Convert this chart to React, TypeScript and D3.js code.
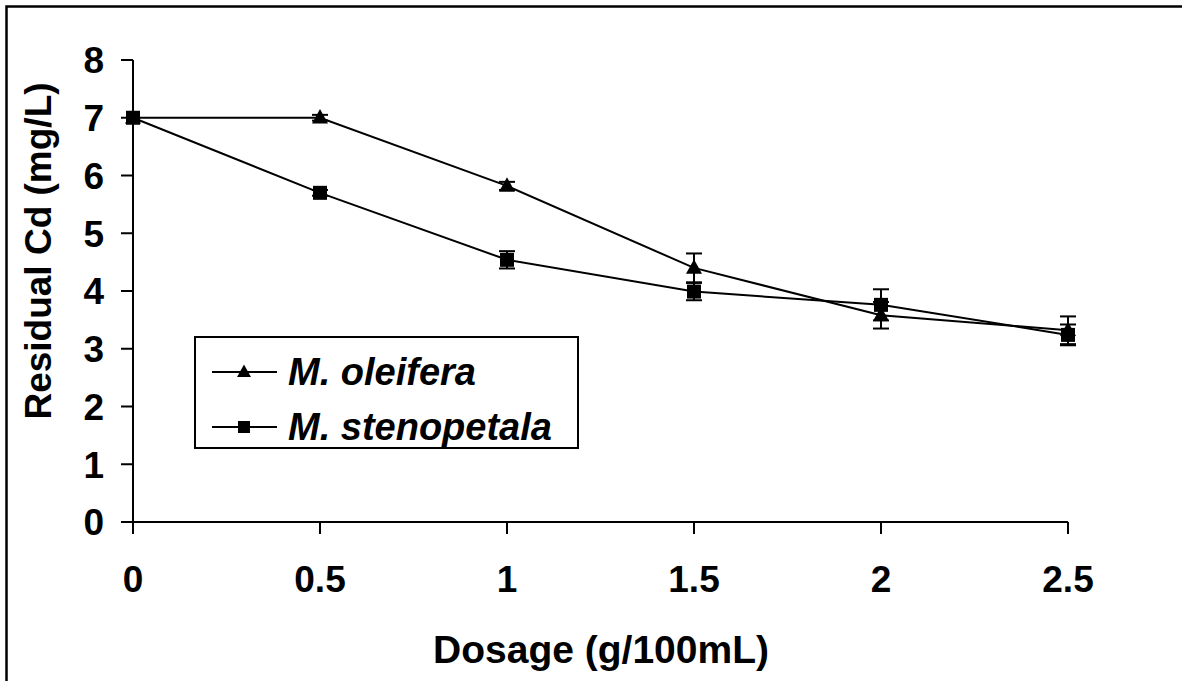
import React from "react";
import * as d3 from "d3";

// Dosage levels (g/100mL)
const dosages = [0, 0.5, 1, 1.5, 2, 2.5];
// Residual Cd (mg/L) per coagulant, with error bar half-widths
const oleifera = [7.0, 7.0, 5.82, 4.4, 3.58, 3.32];
const oleiferaErr = [0, 0.05, 0.07, 0.25, 0.23, 0.24];
const stenopetala = [7.0, 5.7, 4.54, 3.99, 3.76, 3.24];
const stenopetalaErr = [0, 0.05, 0.15, 0.15, 0.27, 0.18];
const yTicks = [0, 1, 2, 3, 4, 5, 6, 7, 8];
const xTickLabels = ["0", "0.5", "1", "1.5", "2", "2.5"];
const seriesNames = ["M. oleifera", "M. stenopetala"];

const W = 1182;
const H = 681;
const FONT = "'Liberation Sans', Arial, Helvetica, sans-serif";

export default function App() {
  const x = d3.scaleLinear().domain([0, 2.5]).range([133, 1068]);
  const y = d3.scaleLinear().domain([0, 8]).range([522, 60]);
  const line = d3
    .line<number>()
    .x((_, i) => x(dosages[i]))
    .y((d) => y(d));

  const triangle = (cx: number, cy: number, s: number) => {
    const h = s * 0.9;
    return `M${cx},${cy - h * 0.6}L${cx + s / 2},${cy + h * 0.4}L${cx - s / 2},${cy + h * 0.4}Z`;
  };

  const errorBars = (vals: number[], errs: number[], key: string) =>
    vals.map((v, i) => {
      const e = errs[i];
      if (!e) return null;
      const cx = x(dosages[i]);
      const y1 = y(v + e);
      const y2 = y(v - e);
      return (
        <g key={key + i} stroke="#000" strokeWidth={2}>
          <line x1={cx} x2={cx} y1={y1} y2={y2} />
          <line x1={cx - 8} x2={cx + 8} y1={y1} y2={y1} />
          <line x1={cx - 8} x2={cx + 8} y1={y2} y2={y2} />
        </g>
      );
    });

  return (
    <svg
      width={W}
      height={H}
      style={{ position: "absolute", left: 0, top: 0, display: "block", background: "#fff" }}
      fontFamily={FONT}
      fontWeight="bold"
    >
      <rect x={0} y={0} width={W} height={H} fill="#fff" />
      {/* outer frame */}
      <rect x={6.5} y={6.5} width={W + 20} height={H + 20} fill="none" stroke="#000" strokeWidth={2.5} />

      {/* axes */}
      <line x1={x(0)} x2={x(0)} y1={y(8)} y2={y(0) + 12} stroke="#000" strokeWidth={2} />
      <line x1={x(0)} x2={x(2.5)} y1={y(0)} y2={y(0)} stroke="#000" strokeWidth={2} />
      {yTicks.map((t) => (
        <g key={"yt" + t}>
          <line x1={x(0) - 12} x2={x(0)} y1={y(t)} y2={y(t)} stroke="#000" strokeWidth={2} />
          <text x={104} y={y(t)} dy="0.36em" textAnchor="end" fontSize={37}>
            {t}
          </text>
        </g>
      ))}
      {dosages.map((d, i) => (
        <g key={"xt" + d}>
          <line x1={x(d)} x2={x(d)} y1={y(0)} y2={y(0) + 12} stroke="#000" strokeWidth={2} />
          <text x={x(d)} y={592} textAnchor="middle" fontSize={37}>
            {xTickLabels[i]}
          </text>
        </g>
      ))}

      {/* axis titles */}
      <text x={601} y={663} textAnchor="middle" fontSize={39}>
        Dosage (g/100mL)
      </text>
      <text transform="translate(51,251) rotate(-90)" textAnchor="middle" fontSize={37}>
        Residual Cd (mg/L)
      </text>

      {/* series lines */}
      <path d={line(oleifera) || ""} fill="none" stroke="#000" strokeWidth={2} />
      <path d={line(stenopetala) || ""} fill="none" stroke="#000" strokeWidth={2} />

      {errorBars(oleifera, oleiferaErr, "eo")}
      {errorBars(stenopetala, stenopetalaErr, "es")}

      {/* markers */}
      {oleifera.map((v, i) => (
        <path key={"mo" + i} d={triangle(x(dosages[i]), y(v), 16)} fill="#000" />
      ))}
      {stenopetala.map((v, i) => (
        <rect key={"ms" + i} x={x(dosages[i]) - 7} y={y(v) - 7} width={14} height={14} fill="#000" />
      ))}

      {/* legend */}
      <rect x={195} y={337} width={383} height={111} fill="#fff" stroke="#000" strokeWidth={2} />
      <line x1={212} x2={277} y1={372} y2={372} stroke="#000" strokeWidth={2} />
      <path d={triangle(244, 372, 14)} fill="#000" />
      <text x={288} y={385} fontSize={38} fontStyle="italic">
        {seriesNames[0]}
      </text>
      <line x1={212} x2={277} y1={427} y2={427} stroke="#000" strokeWidth={2} />
      <rect x={238} y={421} width={12} height={12} fill="#000" />
      <text x={288} y={440} fontSize={38} fontStyle="italic">
        {seriesNames[1]}
      </text>
    </svg>
  );
}
